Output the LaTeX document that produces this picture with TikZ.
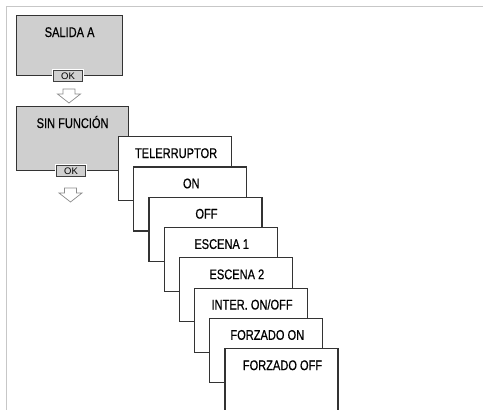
\documentclass[tikz,border=0pt]{standalone}
\usepackage{fontspec}
\setmainfont[FakeStretch=0.79,FakeBold=0.6]{Liberation Sans}
\newfontfamily\okfont{Liberation Sans}
\usetikzlibrary{positioning,calc}

\begin{document}
\begin{tikzpicture}[x=1pt,y=-1pt,
  menu/.style={draw=black!80,line width=1.2pt,fill=white,anchor=north west,
    minimum width=113pt,minimum height=64pt,inner sep=0pt},
  topmenu/.style={menu,fill=black!19},
  title/.style={anchor=base,inner sep=0pt,font=\fontsize{14}{16}\selectfont},
  okbtn/.style={draw=black!75,fill=black!18,line width=0.8pt,
    minimum width=29pt,minimum height=11pt,inner sep=0pt,
    font=\okfont\fontsize{9.5}{10}\selectfont,
    preaction={draw=white,line width=3pt}},
  hollow/.style={draw=black!45,fill=white,line width=0.7pt,line join=miter}]
  \useasboundingbox (0,0) rectangle (483,410);
  \clip (0,0) rectangle (483,410);
  \def\dnarrow(#1){
    \draw[hollow,shift={(#1)}] (-6,0) -- (6,0) -- (6,5) -- (11.5,5)
      -- (0,14) -- (-11.5,5) -- (-6,5) -- cycle;
  }
  % frame
  \draw[black!22,line width=1.5pt] (483,6.5) -- (6.5,6.5) -- (6.5,410);

  % SALIDA A -> SIN FUNCION
  \node[topmenu,minimum width=106pt,minimum height=60pt] (out) at (16,15) {};
  \node[title] (outt) at ([yshift=-22pt]out.north) {SALIDA A};
  \node[okbtn] (ok1) at ([xshift=-1.5pt]out.south) {OK};
  \coordinate (a1) at (69,89);
  \dnarrow(a1)

  \node[topmenu,minimum width=112pt] (fn) at (16,106) {};
  \node[title] (fnt) at ([yshift=-22pt]fn.north) {SIN FUNCIÓN};
  \node[okbtn] (ok2) at ([xshift=-1.5pt]fn.south) {OK};
  \coordinate (a2) at (70.5,188);
  \dnarrow(a2)

  % list of functions
  \foreach \t [count=\i] in {TELERRUPTOR,ON,OFF,ESCENA 1,ESCENA 2,
      INTER. ON/OFF,FORZADO ON,FORZADO OFF} {
    \node[menu] (m\i) at ({118+15.2*(\i-1)},{136+30.3*(\i-1)}) {};
    \node[title] (t\i) at ([xshift=1pt,yshift=-22pt]m\i.north) {\t};
  }
\end{tikzpicture}
\end{document}
